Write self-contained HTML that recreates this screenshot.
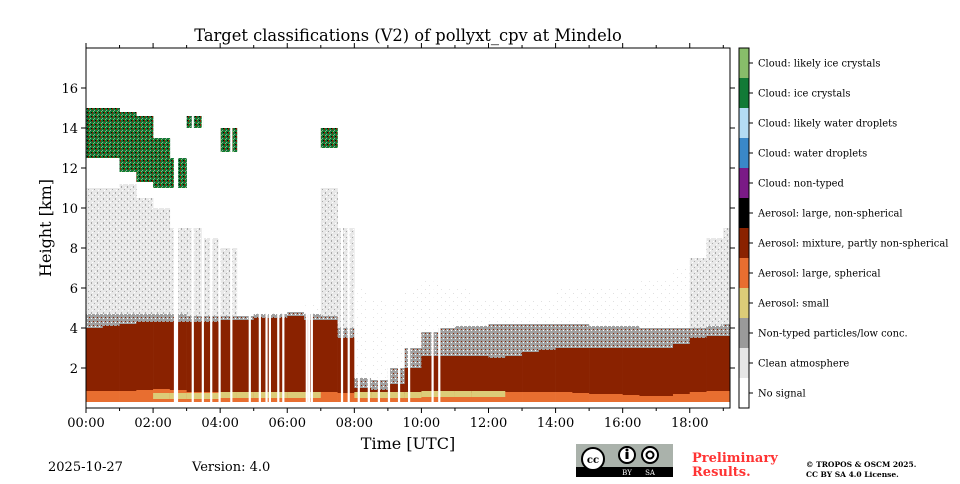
<!DOCTYPE html>
<html><head><meta charset="utf-8">
<style>
body{margin:0;background:#fff;width:960px;height:480px;overflow:hidden;font-family:"DejaVu Serif","Liberation Serif",serif;}
svg text{font-family:"DejaVu Serif","Liberation Serif",serif;}
</style></head>
<body>
<svg id="chart" width="960" height="480" viewBox="0 0 960 480" xmlns="http://www.w3.org/2000/svg">
<defs>
<pattern id="speckLight" width="6" height="6" patternUnits="userSpaceOnUse">
<rect width="6" height="6" fill="#e8e8e8"/><rect x="1" y="0" width="1" height="2" fill="#a8a8a8"/><rect x="4" y="3" width="1" height="1" fill="#a8a8a8"/><rect x="2" y="4" width="1" height="1" fill="#fff"/><rect x="5" y="1" width="1" height="1" fill="#fff"/>
</pattern>
<pattern id="speckSparse" width="8" height="8" patternUnits="userSpaceOnUse">
<rect width="8" height="8" fill="#fff"/><rect x="1" y="1" width="1" height="1" fill="#e6e6e6"/><rect x="5" y="5" width="1" height="1" fill="#e0e0e0"/>
</pattern>
<pattern id="speckGray" width="4" height="4" patternUnits="userSpaceOnUse">
<rect width="4" height="4" fill="#a0a0a0"/><rect x="1" y="1" width="1" height="1" fill="#8a2200"/><rect x="3" y="2" width="1" height="1" fill="#fff"/>
</pattern>
<pattern id="speckIce" width="4" height="4" patternUnits="userSpaceOnUse">
<rect width="4" height="4" fill="#127a36"/><rect x="0" y="0" width="1" height="2" fill="#8a2200"/><rect x="2" y="2" width="1" height="1" fill="#9a9a9a"/><rect x="3" y="0" width="1" height="1" fill="#000"/><rect x="1" y="3" width="1" height="1" fill="#88bd6a"/>
</pattern>
</defs>
<g id="plot"></g>
<rect x="86" y="48" width="644" height="360" fill="none" stroke="#000" stroke-width="1"/>
<g id="axes"></g>
<text x="408" y="41" text-anchor="middle" font-size="16.3">Target classifications (V2) of pollyxt_cpv at Mindelo</text>
<text x="408" y="449" text-anchor="middle" font-size="16">Time [UTC]</text>
<text transform="translate(51,228) rotate(-90)" text-anchor="middle" font-size="16">Height [km]</text>
<g id="cbar"></g>
<text x="48" y="471" font-size="13">2025-10-27</text>
<text x="192" y="471" font-size="13">Version: 4.0</text>
<g>
<rect x="576" y="444" width="97" height="33" fill="#aab2ab"/>
<rect x="576" y="467" width="97" height="10" fill="#000"/>
<circle cx="593" cy="459" r="11" fill="#fff" stroke="#000" stroke-width="2"/>
<text x="593" y="463" text-anchor="middle" font-size="10" font-weight="bold" font-family="Liberation Sans,sans-serif">cc</text>
<circle cx="627" cy="455" r="8" fill="#fff" stroke="#000" stroke-width="2"/>
<rect x="625.5" y="452" width="3" height="7" fill="#000"/><circle cx="627" cy="450" r="1.5" fill="#000"/>
<circle cx="650" cy="455" r="8" fill="#fff" stroke="#000" stroke-width="2"/>
<circle cx="650" cy="455" r="3.5" fill="none" stroke="#000" stroke-width="2"/>
<text x="627" y="475" text-anchor="middle" font-size="7" fill="#fff" font-family="Liberation Sans,sans-serif">BY</text>
<text x="650" y="475" text-anchor="middle" font-size="7" fill="#fff" font-family="Liberation Sans,sans-serif">SA</text>
</g>
<text x="692" y="462" font-size="13" font-weight="bold" fill="#ff3333">Preliminary</text>
<text x="692" y="476" font-size="13" font-weight="bold" fill="#ff3333">Results.</text>
<text x="806" y="467" font-size="7.5" font-weight="bold">© TROPOS &amp; OSCM 2025.</text>
<text x="806" y="477" font-size="7.5" font-weight="bold">CC BY SA 4.0 License.</text>
</svg>
<script>
// ---- data (hours, km) ----
const hours = [0,0.5,1,1.5,2,2.5,3,3.5,4,4.5,5,5.5,6,6.5,7,7.5,8,8.5,9,9.5,10,10.5,11,11.5,12,12.5,13,13.5,14,14.5,15,15.5,16,16.5,17,17.5,18,18.5,19];
const orangeTop = [0.85,0.85,0.85,0.9,0.95,0.9,0.8,0.8,0.8,0.8,0.8,0.8,0.8,0.8,0.8,0.75,0.7,0.7,0.7,0.7,0.75,0.75,0.75,0.75,0.8,0.8,0.8,0.8,0.8,0.75,0.7,0.7,0.65,0.6,0.6,0.7,0.8,0.85,0.85];
const smallTop = [0,0,0,0,0.75,0.75,0.75,0.75,0.8,0.8,0.8,0.8,0.8,0.8,0,0,0.8,0.8,0.8,0.8,0.85,0.85,0.85,0.85,0.85,0,0,0,0,0,0,0,0,0,0,0,0,0,0];
const redTop = [4.0,4.1,4.2,4.3,4.3,4.3,4.3,4.3,4.4,4.4,4.5,4.5,4.6,4.4,4.4,3.5,1.0,0.9,1.2,2.0,2.6,2.6,2.6,2.6,2.5,2.6,2.8,2.9,3.0,3.0,3.0,3.0,3.0,3.0,3.0,3.2,3.5,3.6,3.6];
const grayTop = [4.7,4.7,4.7,4.7,4.7,4.7,4.6,4.6,4.6,4.6,4.7,4.7,4.8,4.7,4.6,4.0,1.5,1.4,2.0,3.0,3.8,4.0,4.1,4.1,4.2,4.2,4.2,4.2,4.2,4.2,4.1,4.1,4.1,4.0,4.0,4.0,4.0,4.1,4.2];
const lightTop = [11.0,11.0,11.2,10.5,10.0,9.0,9.0,8.5,8.0,4.7,4.8,4.8,4.8,5.2,11.0,9.0,6.0,5.5,5.5,6.0,6.5,6.0,6.0,5.5,5.5,5.5,5.5,5.5,6.0,6.0,6.0,6.0,6.0,6.5,6.5,7.0,7.5,8.5,9.0];
const iceBase = [12.5,12.5,11.8,11.3,11.0,11.0,14.0,0,12.8,0,0,0,0,0,13.0,0,0,0,0,0,0,0,0,0,0,0,0,0,0,0,0,0,0,0,0,0,0,0,0];
const iceTop = [15.0,15.0,14.8,14.6,13.5,12.5,14.6,0,14.0,0,0,0,0,0,14.0,0,0,0,0,0,0,0,0,0,0,0,0,0,0,0,0,0,0,0,0,0,0,0,0];
const gapTimes = [2.62,2.68,3.15,3.45,3.7,3.95,4.3,4.85,5.15,5.35,5.45,5.7,5.85,6.55,6.62,6.7,7.6,7.8,8.1,8.4,8.7,9.0,9.3,9.6,10.3,10.5];
const xTicks = [0,2,4,6,8,10,12,14,16,18];
const yTicks = [2,4,6,8,10,12,14,16];
const classNames = ["Cloud: likely ice crystals","Cloud: ice crystals","Cloud: likely water droplets","Cloud: water droplets","Cloud: non-typed","Aerosol: large, non-spherical","Aerosol: mixture, partly non-spherical","Aerosol: large, spherical","Aerosol: small","Non-typed particles/low conc.","Clean atmosphere","No signal"];
const classColors = ["#88bd6a","#127a36","#b4dcf4","#3a88c8","#7a1a86","#000000","#8a2200","#e86e30","#dccc78","#9a9a9a","#e6e6e6","#ffffff"];

const X0=86,X1=730,Y0=408,Y1=48,TMAX=19.2,HMAX=18;
const xs=t=>X0+(X1-X0)*t/TMAX;
const ys=h=>Y0-(Y0-Y1)*h/HMAX;
const NS="http://www.w3.org/2000/svg";
function mk(tag,attrs,parent){const e=document.createElementNS(NS,tag);for(const k in attrs)e.setAttribute(k,attrs[k]);parent.appendChild(e);return e;}
const plot=document.getElementById('plot');
const step=0.5;
function band(i,lo,hi,fill,name){
  if(hi<=lo)return;
  const x=xs(hours[i]),w=Math.min(xs(Math.min(hours[i]+step,TMAX))-x,X1-x);
  if(w<=0)return;
  const r=mk('rect',{x:x,y:ys(hi),width:w+0.3,height:ys(lo)-ys(hi),fill:fill},plot);
  
  
}
for(let i=0;i<hours.length;i++){
  const lightFill = lightTop[i]>7 ? 'url(#speckLight)' : 'url(#speckSparse)';
  band(i,grayTop[i],lightTop[i],lightFill,'clean-atmosphere-cell');
  band(i,redTop[i],grayTop[i],'url(#speckGray)','non-typed-particles-cell');
  band(i,orangeTop[i],redTop[i],classColors[6],'aerosol-mixture-cell');
  band(i,0.3,orangeTop[i],classColors[7],'aerosol-large-spherical-cell');
  if(smallTop[i]>0) band(i,smallTop[i]-0.3,smallTop[i],classColors[8],'aerosol-small-cell');
  if(iceTop[i]>0) band(i,iceBase[i],iceTop[i],'url(#speckIce)','ice-cloud-cell');
}
for(const g of gapTimes){
  const r=mk('rect',{x:xs(g),y:Y1,width:2.2,height:Y0-Y1-2,fill:'#fff'},plot);
  
  
}
const axes=document.getElementById('axes');
for(const t of xTicks){
  const x=xs(t);
  mk('line',{x1:x,y1:Y0,x2:x,y2:Y0+5,stroke:'#000'},axes);
  mk('line',{x1:x,y1:Y1,x2:x,y2:Y1-5,stroke:'#000'},axes);
  const tx=mk('text',{x:x,y:Y0+19,'text-anchor':'middle','font-size':13},axes);
  tx.textContent=String(t).padStart(2,'0')+':00';
  
  
}
for(let t=1;t<TMAX;t+=2){
  const x=xs(t);
  mk('line',{x1:x,y1:Y0,x2:x,y2:Y0+3,stroke:'#000'},axes);
  mk('line',{x1:x,y1:Y1,x2:x,y2:Y1-3,stroke:'#000'},axes);
}
for(const h of yTicks){
  const y=ys(h);
  mk('line',{x1:X0-5,y1:y,x2:X0,y2:y,stroke:'#000'},axes);
  mk('line',{x1:X1,y1:y,x2:X1+5,y2:y,stroke:'#000'},axes);
  const ty=mk('text',{x:X0-8,y:y+5,'text-anchor':'end','font-size':13},axes);
  ty.textContent=h;
  
  
}
const cbar=document.getElementById('cbar');
const cbX=739,cbW=10,cbY=48,cbH=30;
classNames.forEach((n,i)=>{
  const r=mk('rect',{x:cbX,y:cbY+i*cbH,width:cbW,height:cbH,fill:classColors[i]},cbar);
  
  
  const yc=cbY+i*cbH+cbH/2;
  mk('line',{x1:cbX+cbW,y1:yc,x2:cbX+cbW+4,y2:yc,stroke:'#000'},cbar);
  const t=mk('text',{x:758,y:yc+3.5,'font-size':9.9},cbar);
  t.textContent=n;
  
  
});
mk('rect',{x:cbX,y:cbY,width:cbW,height:cbH*12,fill:'none',stroke:'#000','stroke-width':1},cbar);
</script>
</body></html>
